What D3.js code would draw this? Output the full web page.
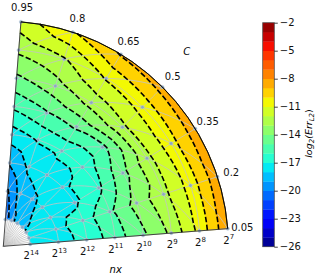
<!DOCTYPE html>
<html><head><meta charset="utf-8">
<script src="https://cdn.jsdelivr.net/npm/d3@7"></script>
<style>body{margin:0;background:#fff} svg{display:block;font-family:"DejaVu Sans",sans-serif}</style>
</head><body><svg id="c" width="320" height="276"></svg>
<script>
// ---------------- data ----------------
const cValues = [0.05, 0.2, 0.35, 0.5, 0.65, 0.8, 0.95];
const nxExponents = [7, 8, 9, 10, 11, 12, 13, 14];
// log2(Err_L2) for each C, columns nx = 2^7 ... 2^14
const err_C005 = [-8.2, -10.7, -12.8, -14.2, -15.5, -16.7, -17.4, -17.8];
const err_C020 = [-8.3, -10.6, -12.3, -13.6, -15.2, -16.5, -17.3, -17.7];
const err_C035 = [-8.4, -10.4, -12.3, -14.3, -16.2, -17.2, -17.5, -17.9];
const err_C050 = [-8.6, -10.6, -12.2, -15.3, -16.8, -17.2, -17.7, -18.2];
const err_C065 = [-8.9, -10.9, -12.6, -14.8, -16.8, -17.4, -18.2, -18.6];
const err_C080 = [-10.1, -12.1, -13.4, -15.1, -16.9, -17.8, -18.6, -19.3];
const err_C095 = [-11.5, -12.8, -14.2, -15.8, -17.5, -18.9, -20.1, -20.7];
const errRows = [err_C005, err_C020, err_C035, err_C050, err_C065, err_C080, err_C095];
const levels = d3.range(-26, -1, 1);            // -26 ... -2
const cbarTicks = [-2, -5, -8, -11, -14, -17, -20, -23, -26];
const thetaTickLabels = ["0.05", "0.2", "0.35", "0.5", "0.65", "0.8", "0.95"];
const holeLines = d3.range(0.1, 0.9001, 0.05);

// ---------------- scales ----------------
const svg = d3.select("#c");
const ox = 3.3, oy = 246.3;
const theta = d3.scaleLinear().domain([0, 1]).range([0, Math.PI / 2]);
const rad = d3.scaleLinear().domain([14, 7]).range([27, 225.1]);
const Rout = rad(7);
function P(c, k) { const t = theta(c), r = rad(k); return [ox + r * Math.cos(t), oy - r * Math.sin(t)]; }
function PR(c, r) { const t = theta(c); return [ox + r * Math.cos(t), oy - r * Math.sin(t)]; }

// jet colormap (matplotlib segment data)
const jr = d3.scaleLinear().domain([0, 0.35, 0.66, 0.89, 1]).range([0, 0, 1, 1, 0.5]).clamp(true);
const jg = d3.scaleLinear().domain([0, 0.125, 0.375, 0.64, 0.91, 1]).range([0, 0, 1, 1, 0, 0]).clamp(true);
const jb = d3.scaleLinear().domain([0, 0.11, 0.34, 0.65, 1]).range([0.5, 1, 1, 0, 0]).clamp(true);
const norm = d3.scaleLinear().domain([levels[0], levels[levels.length - 1]]).range([0, 1]);
function jet(t) { return d3.rgb(255 * jr(t), 255 * jg(t), 255 * jb(t)).formatHex(); }
function bandColor(lo, hi) { return jet(norm((lo + hi) / 2)); }

// ---------------- triangulation ----------------
const nodes = [];
cValues.forEach((c, i) => nxExponents.forEach((k, j) => nodes.push({ id: i * 8 + j, c, k, v: errRows[i][j] })));
const N = (i, j) => nodes[i * 8 + j];
const tris = [];
for (let i = 0; i < cValues.length - 1; i++) for (let j = 0; j < nxExponents.length - 1; j++) {
  const A = N(i, j), B = N(i + 1, j), C = N(i + 1, j + 1), D = N(i, j + 1);
  tris.push([A, B, C]); tris.push([A, C, D]);
}

function clip(poly, L, above) {
  const out = [];
  for (let a = 0; a < poly.length; a++) {
    const p = poly[a], q = poly[(a + 1) % poly.length];
    const ip = above ? p.v >= L : p.v <= L, iq = above ? q.v >= L : q.v <= L;
    if (ip) out.push(p);
    if (ip !== iq) { const t = (L - p.v) / (q.v - p.v); out.push({ c: p.c + t * (q.c - p.c), k: p.k + t * (q.k - p.k), v: L }); }
  }
  return out;
}
function polyPath(poly) {
  let s = "";
  poly.forEach((p, a) => {
    const q = poly[(a + 1) % poly.length];
    for (let m = 0; m < 6; m++) {
      const t = m / 6, xy = P(p.c + t * (q.c - p.c), p.k + t * (q.k - p.k));
      s += (a === 0 && m === 0 ? "M" : "L") + xy[0].toFixed(2) + "," + xy[1].toFixed(2);
    }
  });
  return s + "Z";
}

// filled bands
const gFill = svg.append("g");
for (let b = 0; b < levels.length - 1; b++) {
  const lo = levels[b], hi = levels[b + 1];
  let d = "";
  tris.forEach(t => {
    let poly = clip(t, lo, true);
    if (poly.length >= 3) poly = clip(poly, hi, false);
    if (poly.length >= 3) d += polyPath(poly);
  });
  if (d) gFill.append("path").attr("d", d).attr("fill", bandColor(lo, hi))
    .attr("stroke", bandColor(lo, hi)).attr("stroke-width", 0.6).attr("stroke-linejoin", "round");
}

// mesh lines
const gMesh = svg.append("g").attr("fill", "none").attr("stroke", "#c4c4c4").attr("stroke-width", 0.8);
function segPath(a, b) {
  let s = "";
  for (let m = 0; m <= 8; m++) { const t = m / 8, xy = P(a.c + t * (b.c - a.c), a.k + t * (b.k - a.k)); s += (m ? "L" : "M") + xy[0].toFixed(2) + "," + xy[1].toFixed(2); }
  return s;
}
let meshD = "";
for (let i = 0; i < cValues.length; i++) for (let j = 0; j < nxExponents.length; j++) {
  if (j < 7) meshD += segPath(N(i, j), N(i, j + 1));
  if (i < 6) meshD += segPath(N(i, j), N(i + 1, j));
  if (i < 6 && j < 7) meshD += segPath(N(i, j), N(i + 1, j + 1));
}
gMesh.append("path").attr("d", meshD);
// lines inside the inner hole
holeLines.forEach(c => {
  const a = PR(c, 0), b = PR(c, rad(14));
  gMesh.append("line").attr("x1", a[0]).attr("y1", a[1]).attr("x2", b[0]).attr("y2", b[1]);
});

// data points
svg.append("g").selectAll("circle").data(nodes).join("circle")
  .attr("cx", d => P(d.c, d.k)[0]).attr("cy", d => P(d.c, d.k)[1]).attr("r", 1.7)
  .attr("fill", "#8ea7c2").attr("stroke", "#b9c8d8").attr("stroke-width", 0.5);

// contour lines
const gLines = svg.append("g").attr("fill", "none").attr("stroke", "#000").attr("stroke-width", 1.6)
  .attr("stroke-dasharray", "5.5,2.4");
levels.forEach(L => {
  const segs = [];
  tris.forEach(t => {
    const pts = [];
    for (let e = 0; e < 3; e++) {
      const p = t[e], q = t[(e + 1) % 3];
      if ((p.v > L) !== (q.v > L)) {
        const u = (L - p.v) / (q.v - p.v);
        pts.push({ key: Math.min(p.id, q.id) + "-" + Math.max(p.id, q.id), c: p.c + u * (q.c - p.c), k: p.k + u * (q.k - p.k) });
      }
    }
    if (pts.length === 2) segs.push(pts);
  });
  const byKey = new Map();
  segs.forEach((s, idx) => s.forEach(p => { if (!byKey.has(p.key)) byKey.set(p.key, []); byKey.get(p.key).push(idx); }));
  const used = new Array(segs.length).fill(false);
  function walk(start) {
    const line = [];
    used[start] = true;
    const s = segs[start];
    line.push(s[0], s[1]);
    let cur = s[1];
    while (true) {
      const nb = (byKey.get(cur.key) || []).find(n => !used[n]);
      if (nb === undefined) break;
      used[nb] = true;
      const ns = segs[nb];
      const nxt = ns[0].key === cur.key ? ns[1] : ns[0];
      line.push(nxt); cur = nxt;
    }
    cur = s[0];
    while (true) {
      const nb = (byKey.get(cur.key) || []).find(n => !used[n]);
      if (nb === undefined) break;
      used[nb] = true;
      const ns = segs[nb];
      const nxt = ns[0].key === cur.key ? ns[1] : ns[0];
      line.unshift(nxt); cur = nxt;
    }
    return line;
  }
  for (let s = 0; s < segs.length; s++) {
    if (used[s]) continue;
    const line = walk(s);
    let d = "";
    for (let a = 0; a < line.length - 1; a++) {
      const p = line[a], q = line[a + 1];
      for (let m = 0; m < 4; m++) {
        const t = m / 4, xy = P(p.c + t * (q.c - p.c), p.k + t * (q.k - p.k));
        d += (d ? "L" : "M") + xy[0].toFixed(2) + "," + xy[1].toFixed(2);
      }
    }
    const e = P(line[line.length - 1].c, line[line.length - 1].k);
    d += "L" + e[0].toFixed(2) + "," + e[1].toFixed(2);
    gLines.append("path").attr("d", d);
  }
});

// spines
const arc = d3.arc().innerRadius(Rout).outerRadius(Rout)
  .startAngle(Math.PI / 2 - theta(0.95)).endAngle(Math.PI / 2 - theta(0.05));
svg.append("path").attr("transform", `translate(${ox},${oy})`).attr("d", arc())
  .attr("fill", "none").attr("stroke", "#000").attr("stroke-width", 0.8);
[0.05, 0.95].forEach(c => {
  const b = PR(c, Rout);
  svg.append("line").attr("x1", ox).attr("y1", oy).attr("x2", b[0]).attr("y2", b[1])
    .attr("stroke", "#222").attr("stroke-width", 0.8);
});

// theta tick labels
svg.append("g").selectAll("text").data(cValues).join("text")
  .attr("x", (c) => PR(c, 239.7)[0]).attr("y", (c) => PR(c, 239.7)[1])
  .attr("text-anchor", "middle").attr("dominant-baseline", "central")
  .attr("font-size", 10).attr("fill", "#111").text((c, i) => thetaTickLabels[i]);
svg.append("text").attr("x", 186.7).attr("y", 55.2).attr("text-anchor", "middle")
  .attr("font-size", 10).attr("font-style", "italic").text("C");

// radial tick labels
const rt = svg.append("g").attr("font-size", 10).attr("fill", "#111");
nxExponents.forEach(k => {
  const p = P(0.05, k);
  const t = rt.append("text").attr("x", p[0] + 1).attr("y", p[1] + 15.3).attr("text-anchor", "middle");
  t.append("tspan").text("2");
  t.append("tspan").attr("font-size", 7).attr("dy", -4.5).text(String(k));
});
svg.append("text").attr("x", 115.7).attr("y", 272.5).attr("text-anchor", "middle")
  .attr("font-size", 10).attr("font-style", "italic").text("nx");

// colorbar
const cbX = 262.7, cbW = 11.6;
const cy = d3.scaleLinear().domain([-26, -2]).range([246.7, 22.7]);
const gcb = svg.append("g");
for (let b = 0; b < levels.length - 1; b++) {
  gcb.append("rect").attr("x", cbX).attr("width", cbW)
    .attr("y", cy(levels[b + 1])).attr("height", cy(levels[b]) - cy(levels[b + 1]) + 0.3)
    .attr("fill", bandColor(levels[b], levels[b + 1]));
}
gcb.append("rect").attr("x", cbX).attr("y", cy(-2)).attr("width", cbW).attr("height", cy(-26) - cy(-2))
  .attr("fill", "none").attr("stroke", "#555").attr("stroke-width", 0.8);
const axis = d3.axisRight(cy).tickValues(cbarTicks).tickSize(3.5).tickPadding(2)
  .tickFormat(d => String(d).replace("-", "\u2212"));
const ga = svg.append("g").attr("transform", `translate(${cbX + cbW},0)`).call(axis);
ga.select(".domain").remove();
ga.selectAll("text").attr("font-size", 10).attr("font-family", "DejaVu Sans").attr("fill", "#111");
ga.selectAll("line").attr("stroke", "#111").attr("stroke-width", 0.8);

const lab = svg.append("text").attr("transform", "translate(311.5,133.5) rotate(-90)")
  .attr("text-anchor", "middle").attr("font-size", 9.5).attr("font-style", "italic");
lab.append("tspan").text("log");
lab.append("tspan").attr("font-size", 7).attr("dy", 2.5).text("2");
lab.append("tspan").attr("dy", -2.5).text("(Err");
lab.append("tspan").attr("font-size", 7).attr("dy", 2.5).text("L2");
lab.append("tspan").attr("dy", -2.5).attr("font-style", "normal").text(")");
</script></body></html>
